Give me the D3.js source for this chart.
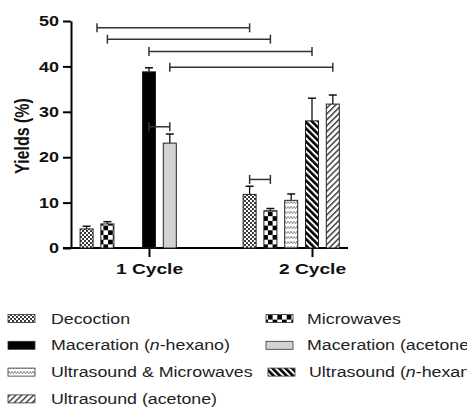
<!DOCTYPE html>
<html><head><meta charset="utf-8">
<script src="https://cdn.jsdelivr.net/npm/d3@7"></script>
<style>
html,body{margin:0;padding:0;background:#fff;}
svg{display:block;font-family:"Liberation Sans",Arial,sans-serif;}
</style></head>
<body>
<svg id="chart" width="467" height="407"></svg>
<script>
// ---------- data ----------
const categories = ["1 Cycle", "2 Cycle"];
const methods = ["Decoction", "Microwaves", "Maceration (n-hexano)", "Maceration (acetone)",
                 "Ultrasound & Microwaves", "Ultrasound (n-hexano)", "Ultrasound (acetone)"];
const barCycle  = ["1 Cycle","1 Cycle","1 Cycle","1 Cycle","2 Cycle","2 Cycle","2 Cycle","2 Cycle","2 Cycle"];
const barMethod = ["Decoction","Microwaves","Maceration (n-hexano)","Maceration (acetone)",
                   "Decoction","Microwaves","Ultrasound & Microwaves","Ultrasound (n-hexano)","Ultrasound (acetone)"];
const barSlot   = [0, 1, 3, 4, 0, 1, 2, 3, 4];
const barMean   = [4.2, 5.3, 38.8, 23.1, 11.8, 8.2, 10.5, 28.0, 31.7];
const barSD     = [0.6, 0.5, 0.9, 2.0, 1.8, 0.5, 1.4, 5.0, 2.0];
const yTicks    = [0, 10, 20, 30, 40, 50];
// significance brackets: [cycle, slot] start / end, level (%)
const bracketStart = [["1 Cycle",0.5],["1 Cycle",1],["1 Cycle",3],["1 Cycle",4],["1 Cycle",3],["2 Cycle",0]];
const bracketEnd   = [["2 Cycle",0],["2 Cycle",1],["2 Cycle",3],["2 Cycle",4],["1 Cycle",4],["2 Cycle",1]];
const bracketLevel = [48.5, 46.0, 43.3, 39.8, 26.7, 15.1];

// ---------- layout ----------
const svg = d3.select("#chart");
const SX = 1.24;   // horizontal text stretch of the reference
const SXL = 1.27;  // legend text stretch
const axisX = 71, y0px = 248, y50px = 21;
const pitch = 20.8, barW = 13;

const y = d3.scaleLinear().domain([0, 50]).range([y0px, y50px]);
const xCat = d3.scalePoint().domain(categories).range([149, 312]);
const xSlot = d3.scaleLinear().domain([0, 3]).range([-3 * pitch, 0]);
const xPos = (c, s) => xCat(c) + xSlot(s);

svg.append("rect").attr("width", 467).attr("height", 407).attr("fill", "#fff");

// ---------- patterns ----------
const defs = svg.append("defs");
function pat(id, w, h, transform) {
  const p = defs.append("pattern").attr("id", id).attr("patternUnits", "userSpaceOnUse")
    .attr("width", w).attr("height", h);
  if (transform) p.attr("patternTransform", transform);
  p.append("rect").attr("width", w).attr("height", h).attr("fill", "#fff");
  return p;
}
let p;
p = pat("pDec", 4, 4);
p.append("rect").attr("x", 0).attr("y", 0).attr("width", 2).attr("height", 2).attr("fill", "#3a3a3a");
p.append("rect").attr("x", 2).attr("y", 2).attr("width", 2).attr("height", 2).attr("fill", "#3a3a3a");
p = pat("pMw", 9.4, 9.4);
p.append("rect").attr("x", 0).attr("y", 0).attr("width", 4.7).attr("height", 4.7).attr("fill", "#000");
p.append("rect").attr("x", 4.7).attr("y", 4.7).attr("width", 4.7).attr("height", 4.7).attr("fill", "#000");
p = pat("pUM", 6, 5);
p.append("path").attr("d", "M0,1.2 L1.5,3.8 L3,1.2 L4.5,3.8 L6,1.2").attr("fill", "none")
  .attr("stroke", "#888").attr("stroke-width", 1);
p = pat("pUH", 4.6, 4.6, "rotate(-45)");
p.append("rect").attr("width", 2.6).attr("height", 4.6).attr("fill", "#000");
p = pat("pUA", 4.2, 4.2, "rotate(45)");
p.append("rect").attr("width", 1.5).attr("height", 4.2).attr("fill", "#444");

const fillOf = {
  "Decoction": "url(#pDec)",
  "Microwaves": "url(#pMw)",
  "Maceration (n-hexano)": "#000",
  "Maceration (acetone)": "#d2d2d2",
  "Ultrasound & Microwaves": "url(#pUM)",
  "Ultrasound (n-hexano)": "url(#pUH)",
  "Ultrasound (acetone)": "url(#pUA)"
};

// ---------- axes ----------
const yAxis = svg.append("g").attr("transform", `translate(${axisX},0)`)
  .call(d3.axisLeft(y).tickValues(yTicks).tickSize(8).tickPadding(4).tickSizeOuter(0));
yAxis.selectAll("path,line").attr("stroke", "#000").attr("stroke-width", 2);
yAxis.selectAll("text").attr("font-size", 14.5).attr("font-weight", "bold")
  .attr("font-family", "'Liberation Sans',Arial,sans-serif").attr("fill", "#111")
  .each(function () {
    const tx = +this.getAttribute("x");
    d3.select(this).attr("x", 0).attr("transform", `translate(${tx},0) scale(${SX},1)`);
  });

const xAxis = svg.append("g").attr("transform", `translate(0,${y0px})`)
  .call(d3.axisBottom(xCat).tickSize(9).tickPadding(6).tickSizeOuter(0));
xAxis.select(".domain").remove();
xAxis.selectAll("line").attr("stroke", "#000").attr("stroke-width", 2);
xAxis.selectAll("text").attr("font-size", 15.5).attr("font-weight", "bold")
  .attr("font-family", "'Liberation Sans',Arial,sans-serif").attr("fill", "#111")
  .attr("transform", `scale(${SX},1)`);
svg.append("line").attr("x1", axisX - 8).attr("x2", 348).attr("y1", y0px).attr("y2", y0px)
  .attr("stroke", "#000").attr("stroke-width", 2);

svg.append("text").attr("transform", `translate(29,136) rotate(-90) scale(1,${SX})`)
  .attr("text-anchor", "middle").attr("font-size", 16).attr("font-weight", "bold")
  .attr("fill", "#111").text("Yields (%)");

// ---------- bars ----------
const bars = barMean.map((v, i) => ({ c: barCycle[i], m: barMethod[i], s: barSlot[i], v, sd: barSD[i] }));
const gBars = svg.append("g");
gBars.selectAll("line.err").data(bars).join("line").attr("class", "err")
  .attr("x1", d => xPos(d.c, d.s)).attr("x2", d => xPos(d.c, d.s))
  .attr("y1", d => y(d.v)).attr("y2", d => y(d.v + d.sd))
  .attr("stroke", "#111").attr("stroke-width", 1.3);
gBars.selectAll("line.cap").data(bars).join("line").attr("class", "cap")
  .attr("x1", d => xPos(d.c, d.s) - 4).attr("x2", d => xPos(d.c, d.s) + 4)
  .attr("y1", d => y(d.v + d.sd)).attr("y2", d => y(d.v + d.sd))
  .attr("stroke", "#111").attr("stroke-width", 1.5);
gBars.selectAll("rect.bar").data(bars).join("rect").attr("class", "bar")
  .attr("x", d => xPos(d.c, d.s) - barW / 2).attr("width", barW)
  .attr("y", d => y(d.v)).attr("height", d => y(0) - y(d.v))
  .attr("fill", d => fillOf[d.m]).attr("stroke", "#222").attr("stroke-width", 1);

// ---------- brackets ----------
const brackets = bracketLevel.map((lv, i) => ({ a: bracketStart[i], b: bracketEnd[i], lv }));
const gBr = svg.append("g").attr("stroke", "#333").attr("stroke-width", 1.5);
brackets.forEach(d => {
  const xa = xPos(d.a[0], d.a[1]), xb = xPos(d.b[0], d.b[1]), yy = y(d.lv);
  gBr.append("line").attr("x1", xa).attr("x2", xb).attr("y1", yy).attr("y2", yy);
  gBr.append("line").attr("x1", xa).attr("x2", xa).attr("y1", yy - 4.5).attr("y2", yy + 4.5);
  gBr.append("line").attr("x1", xb).attr("x2", xb).attr("y1", yy - 4.5).attr("y2", yy + 4.5);
});

// ---------- legend ----------
const legCols = [{ sw: 8, tx: 51 }, { sw: 266, tx: 307 }];
const legY0 = 318.5, legStep = 26.8;
methods.forEach((m, i) => {
  const col = legCols[i % 2], row = Math.floor(i / 2);
  const cy = legY0 + row * legStep;
  const shift = (i === 5) ? 2 : 0;
  svg.append("rect").attr("x", col.sw + shift).attr("y", cy - 4).attr("width", 27).attr("height", 8)
    .attr("fill", fillOf[m]).attr("stroke", "#333").attr("stroke-width", 0.8);
  const t = svg.append("text").attr("transform", `translate(${col.tx + shift},${cy + 5}) scale(${SXL},1)`)
    .attr("font-size", 14).attr("fill", "#222");
  const mm = m.match(/^(.*\()n(-.*)$/);
  if (mm) {
    t.append("tspan").text(mm[1]);
    t.append("tspan").attr("font-style", "italic").text("n");
    t.append("tspan").text(mm[2]);
  } else t.text(m);
});
</script>
</body></html>
